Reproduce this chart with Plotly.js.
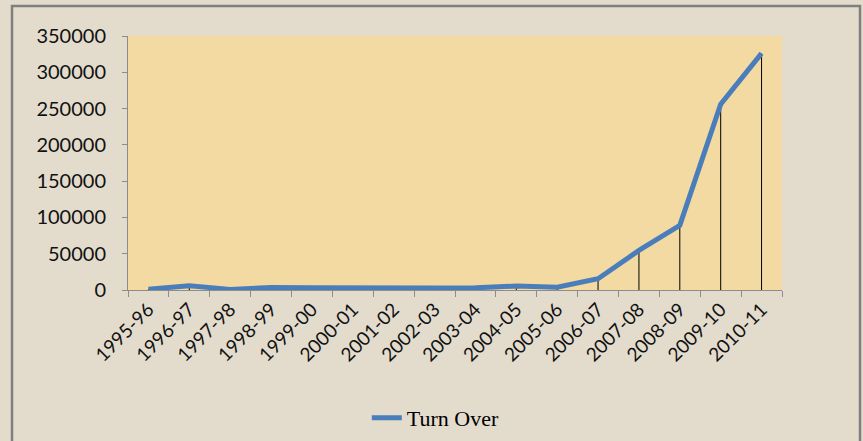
<!DOCTYPE html>
<html>
<head>
<meta charset="utf-8">
<script src="https://cdn.plot.ly/plotly-3.0.1.min.js"></script>
<style>
  html, body { margin: 0; padding: 0; background: #ffffff; }
  #chart { width: 863px; height: 441px; }
</style>
</head>
<body>
<div id="chart"></div>
<script>
const years = ["1995-96","1996-97","1997-98","1998-99","1999-00","2000-01","2001-02","2002-03",
               "2003-04","2004-05","2005-06","2006-07","2007-08","2008-09","2009-10","2010-11"];
const turnOver = [1000, 6000, 800, 3500, 3000, 3500, 3000, 2800,
                  3000, 5500, 3700, 15500, 54500, 89000, 256000, 326000];
const zeros = turnOver.map(() => 0);

const dropLines = {
  x: years, y: turnOver, type: 'scatter', mode: 'markers',
  marker: {size: 1, opacity: 0},
  showlegend: false, hoverinfo: 'skip',
  error_y: {type: 'data', symmetric: false, array: zeros, arrayminus: turnOver,
            color: '#000000', thickness: 1, width: 0}
};
const line = {
  x: years, y: turnOver, type: 'scatter', mode: 'lines', name: 'Turn Over',
  line: {color: '#4a7ebb', width: 5}
};

const layout = {
  width: 863, height: 441,
  margin: {l: 128, r: 81, t: 36, b: 151},
  paper_bgcolor: '#e3dccd',
  plot_bgcolor: '#f3d9a2',
  showlegend: true,
  legend: {orientation: 'h', xref: 'container', yref: 'container',
           x: 0.505, xanchor: 'center', y: 0.052, yanchor: 'middle',
           font: {family: 'Liberation Serif, Times New Roman, serif', size: 22, color: '#000'},
           bgcolor: 'rgba(0,0,0,0)'},
  xaxis: {
    type: 'category', range: [-0.5, years.length - 0.5], tickangle: -45, showgrid: false, automargin: false,
    showline: true, linecolor: '#8c8c8c', linewidth: 1,
    ticks: 'outside', tickson: 'boundaries', ticklen: 6, tickcolor: '#8c8c8c',
    tickfont: {family: 'Lato, Carlito, sans-serif', size: 19, color: '#111'},
    zeroline: false
  },
  yaxis: {
    range: [0, 350000], dtick: 50000, tickformat: 'd', showgrid: false, automargin: false,
    showline: true, linecolor: '#8c8c8c', linewidth: 1,
    ticks: 'outside', ticklen: 5, tickcolor: '#8c8c8c', ticklabelstandoff: 12,
    tickfont: {family: 'Lato, Carlito, sans-serif', size: 20, color: '#111'},
    zeroline: false
  },
  shapes: [{
    type: 'rect', xref: 'paper', yref: 'paper',
    x0: (12 - 128) / 654, x1: (860 - 128) / 654,
    y0: (290 - 460) / 254, y1: (290 - 6) / 254,
    line: {color: '#7f7f7f', width: 2.5}, fillcolor: 'rgba(0,0,0,0)', layer: 'above'
  }]
};

Plotly.newPlot('chart', [dropLines, line], layout, {displayModeBar: false, staticPlot: true});
</script>
</body>
</html>
